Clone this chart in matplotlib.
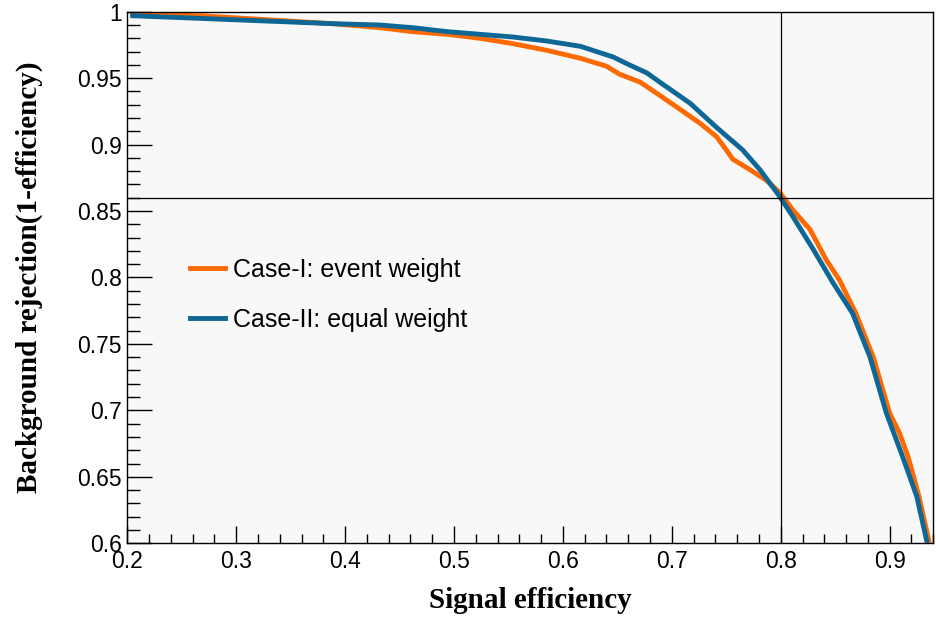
import numpy as np
import matplotlib
matplotlib.use("Agg")
import matplotlib.pyplot as plt
from matplotlib.ticker import MultipleLocator, FuncFormatter

# Signal efficiency vs background rejection
eff_case1 = [0.205, 0.267, 0.328, 0.389, 0.432, 0.462, 0.494, 0.524, 0.554, 0.585,
             0.616, 0.640, 0.652, 0.671, 0.689, 0.705, 0.726, 0.741, 0.750, 0.756,
             0.772, 0.787, 0.799, 0.811, 0.827, 0.842, 0.854, 0.869, 0.885, 0.900,
             0.909, 0.917, 0.927, 0.936]
rej_case1 = [0.998, 0.997, 0.994, 0.991, 0.988, 0.985, 0.983, 0.980, 0.976, 0.971,
             0.965, 0.959, 0.953, 0.947, 0.937, 0.928, 0.916, 0.906, 0.896, 0.889,
             0.881, 0.873, 0.864, 0.851, 0.836, 0.813, 0.798, 0.773, 0.740, 0.698,
             0.683, 0.665, 0.635, 0.602]

eff_case2 = [0.205, 0.267, 0.328, 0.389, 0.432, 0.462, 0.494, 0.524, 0.554, 0.585,
             0.616, 0.646, 0.661, 0.677, 0.689, 0.717, 0.741, 0.765, 0.781, 0.799,
             0.811, 0.830, 0.848, 0.866, 0.882, 0.897, 0.912, 0.925, 0.934]
rej_case2 = [0.997, 0.995, 0.993, 0.991, 0.990, 0.988, 0.985, 0.983, 0.981, 0.978,
             0.974, 0.966, 0.960, 0.954, 0.947, 0.931, 0.913, 0.896, 0.881, 0.861,
             0.846, 0.821, 0.796, 0.773, 0.740, 0.698, 0.665, 0.635, 0.602]

labels = ["Case-I: event weight", "Case-II: equal weight"]
colors = ["#ff6a00", "#0f6796"]
wp_eff, wp_rej = 0.8, 0.86

fig = plt.figure(figsize=(9.36, 6.18), dpi=100)
ax = fig.add_axes([0.136, 0.121, 0.861, 0.860])
ax.set_facecolor("#f8f8f8")

l1, = ax.plot(eff_case1, rej_case1, color=colors[0], lw=3.5, solid_joinstyle="round")
l2, = ax.plot(eff_case2, rej_case2, color=colors[1], lw=3.5, solid_joinstyle="round")
ax.axvline(wp_eff, color="black", lw=0.9)
ax.axhline(wp_rej, color="black", lw=0.9)

ax.set_xlim(0.2, 0.94)
ax.set_ylim(0.6, 1.0)
ax.xaxis.set_major_locator(MultipleLocator(0.1))
ax.xaxis.set_minor_locator(MultipleLocator(0.02))
ax.yaxis.set_major_locator(MultipleLocator(0.05))
ax.yaxis.set_minor_locator(MultipleLocator(0.01))
fmt = FuncFormatter(lambda v, _: f"{v:g}")
ax.xaxis.set_major_formatter(fmt)
ax.yaxis.set_major_formatter(fmt)

ax.tick_params(axis="x", which="major", direction="in", length=12, width=1, labelsize=16.5, pad=5)
ax.tick_params(axis="x", which="minor", direction="in", length=6.5, width=1)
ax.tick_params(axis="y", which="major", direction="in", length=18, width=1, labelsize=16.5, pad=4)
ax.tick_params(axis="y", which="minor", direction="in", length=9.4, width=1)
for lab in ax.get_xticklabels() + ax.get_yticklabels():
    lab.set_family("Liberation Sans")
for s in ax.spines.values():
    s.set_linewidth(1)

ax.set_xlabel("Signal efficiency", family="Liberation Serif", fontweight="bold", fontsize=21)
ax.set_ylabel("Background rejection(1-efficiency)", family="Liberation Serif", fontweight="bold",
              fontsize=21)
ax.xaxis.set_label_coords(0.5, -0.083)
ax.yaxis.set_label_coords(-0.105, 0.5)

leg = ax.legend([l1, l2], labels, loc="center left", bbox_to_anchor=(0.078, 0.467), frameon=False,
                prop={"family": "Liberation Sans", "size": 18}, handlelength=1.4, handletextpad=0.3,
                labelspacing=1.05, borderpad=0, borderaxespad=0)

fig.savefig("out.png", dpi=100)
